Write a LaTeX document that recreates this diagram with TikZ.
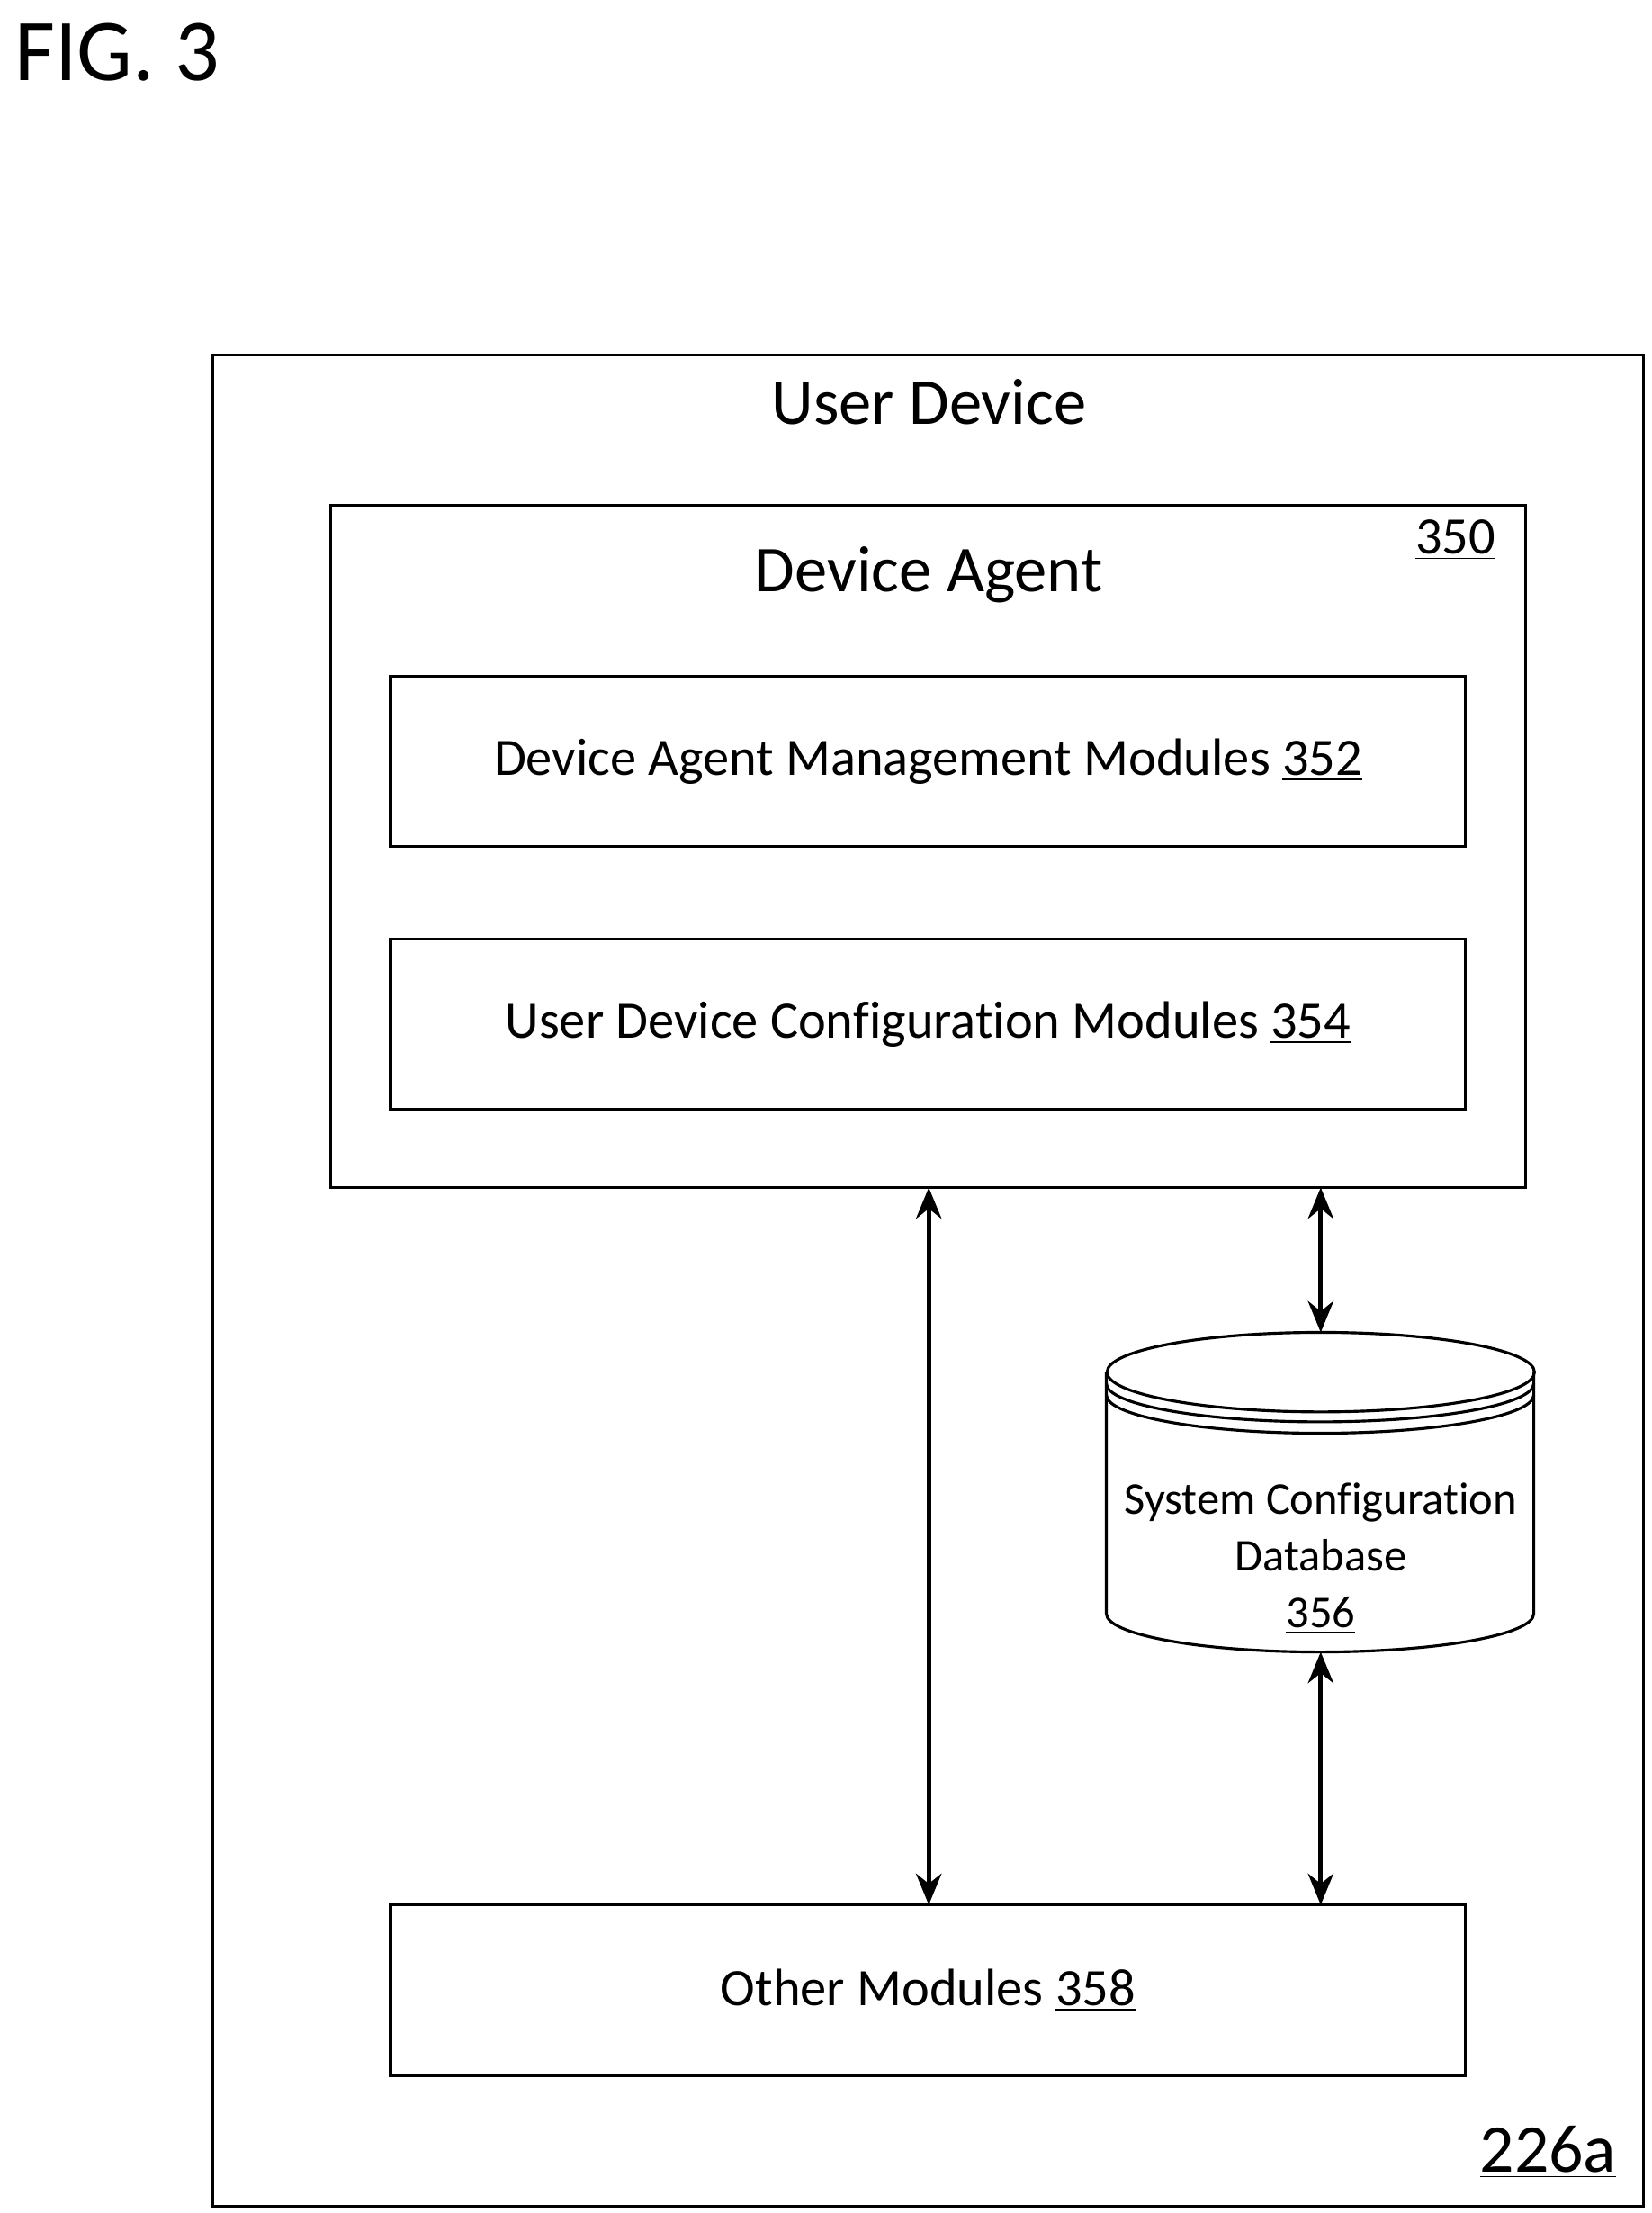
\documentclass[tikz,border=0pt]{standalone}
\usepackage{fontspec}
\setmainfont[Ligatures=NoCommon]{Carlito}
\usetikzlibrary{arrows.meta}
\begin{document}
\begin{tikzpicture}[x=0.5pt,y=-0.5pt,
  box/.style={draw,line width=1pt},
  lbl/.style={font=\fontsize{18.5}{22}\selectfont,anchor=center,inner sep=0},
  arr/.style={line width=1.5pt,{Stealth[length=11pt,width=9pt]}-{Stealth[length=11pt,width=9pt]}}]
\useasboundingbox (0,0) rectangle (1163,1558);
\node[anchor=west,font=\fontsize{31}{34}\selectfont,inner sep=0] (fig) at (10,37) {FIG. 3};
\draw[box] (150,250) rectangle (1157,1553);
\node[font=\fontsize{23}{27}\selectfont,inner sep=0] (ud) at (654,283) {User Device};
\node[font=\fontsize{24}{28}\selectfont,inner sep=0] (ref) at (1090,1515) {\underline{226a}};
\draw[box] (233,356) rectangle (1074,836);
\coordinate (daB) at (654,836);
\coordinate (daB2) at (930,836);
\node[font=\fontsize{23}{27}\selectfont,inner sep=0] (da) at (654,405) {Device Agent};
\node[lbl] (n350) at (1025,380) {\underline{350}};
\node[box,minimum width=378.5pt,minimum height=60pt] (m352) at (653.5,536) {};
\node[lbl] at (m352) {Device Agent Management Modules \underline{352}};
\node[box,minimum width=378.5pt,minimum height=60pt] (m354) at (653.5,721) {};
\node[lbl] at (m354) {User Device Configuration Modules \underline{354}};
\node[box,minimum width=378.5pt,minimum height=60pt] (m358) at (653.5,1401) {};
\node[lbl] at (m358) {Other Modules \underline{358}};
% cylinder
\coordinate (dbT) at (930,938);
\coordinate (dbB) at (930,1163);
\draw[line width=1pt,fill=white] (779,966) -- (779,1136) arc[start angle=180,end angle=0,x radius=150.5,y radius=27] -- (1080,966);
\draw[line width=1pt] (930,966) ellipse [x radius=150.5, y radius=28];
\draw[line width=1pt] (779,974) arc[start angle=180,end angle=0,x radius=150.5,y radius=27];
\draw[line width=1pt] (779,982) arc[start angle=180,end angle=0,x radius=150.5,y radius=27];
\node[font=\fontsize{16}{19}\selectfont,inner sep=0,align=center] (db) at (930,1097) {System Configuration\\[1pt]Database\\[1pt]\underline{356}};
\draw[arr] (daB) -- (654,1341);
\draw[arr] (daB2) -- (dbT);
\draw[arr] (dbB) -- (930,1341);
\end{tikzpicture}
\end{document}
